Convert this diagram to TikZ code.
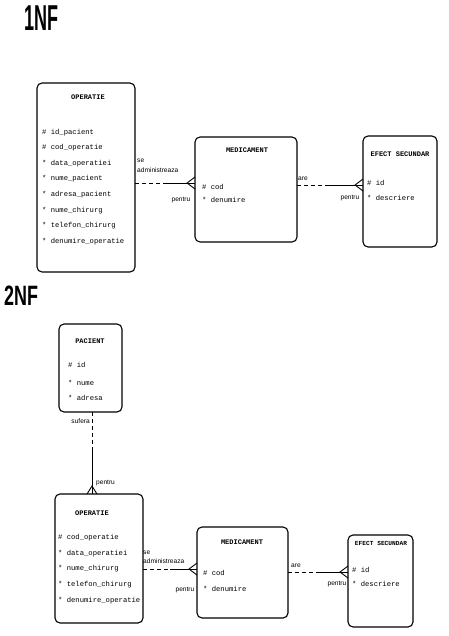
\documentclass[tikz,border=0pt]{standalone}
\usepackage{fontspec}
\setmainfont{Liberation Serif}
\newfontfamily\monof{Liberation Mono}
\newfontfamily\sansf{Liberation Sans}
\begin{document}
\begin{tikzpicture}[x=1pt,y=-1pt,
  entity/.style={draw, line width=1.1pt, rounded corners=5pt, inner sep=0, outer sep=0, anchor=north west},
  etitle/.style={inner sep=0, anchor=base, font=\monof\bfseries\fontsize{7}{8}\selectfont},
  attr/.style={inner sep=0, anchor=base west, font=\monof\fontsize{7.2}{8}\selectfont},
  rlabel/.style={inner sep=0, font=\sansf\fontsize{6.6}{7}\selectfont},
  rel/.style={line width=0.9pt},
  opt/.style={rel, dash pattern=on 4pt off 3pt},
  heading/.style={inner sep=0, anchor=base west, font=\sansf\bfseries}
]
\useasboundingbox (0,0) rectangle (448,636);

% ---------- headings ----------
\node[heading] (h1) at (24,31) {\scalebox{0.5}[1]{\fontsize{36}{36}\selectfont 1NF}};
\node[heading] (h2) at (4,305) {\scalebox{0.64}[1]{\fontsize{28}{28}\selectfont 2NF}};

% ---------- 1NF entities ----------
\node[entity, minimum width=98pt, minimum height=189pt] (op1) at (37,83) {};
\node[etitle] (op1t) at (88,99.5) {OPERATIE};
\foreach \t [count=\i from 0] in {{\# id\_pacient},{\# cod\_operatie},{* data\_operatiei},{* nume\_pacient},{* adresa\_pacient},{* nume\_chirurg},{* telefon\_chirurg},{* denumire\_operatie}}
  \node[attr] (op1a\i) at (42,134.5+15.5*\i) {\t};

\node[entity, minimum width=102pt, minimum height=105pt] (med1) at (195,137) {};
\node[etitle] (med1t) at (247,152.5) {MEDICAMENT};
\node[attr] (med1a) at (202,189.5) {\# cod};
\node[attr] (med1b) at (202,202.5) {* denumire};

\node[entity, minimum width=74pt, minimum height=111pt] (ef1) at (363,136) {};
\node[etitle] (ef1t) at (400,156.5) {EFECT SECUNDAR};
\node[attr] (ef1a) at (367,185.5) {\# id};
\node[attr] (ef1b) at (367,200.5) {* descriere};

% ---------- 1NF relationships ----------
\coordinate (r1a) at (op1.east |- 0,183);
\coordinate (r1b) at (med1.west |- 0,183);
\coordinate (r1m) at (164,183);
\draw[opt] (r1a) -- (r1m);
\draw[rel] (r1m) -- (r1b);
\draw[rel] (r1b) ++(0,-6) -- ++(-8,6) -- ++(8,6);
\node[rlabel, anchor=base west] (l1a) at (137,163) {se};
\node[rlabel, anchor=base west] (l1b) at (137,173) {administreaza};
\node[rlabel, anchor=base] (l1c) at (181,201) {pentru};

\coordinate (r2a) at (med1.east |- 0,185);
\coordinate (r2b) at (ef1.west |- 0,185);
\coordinate (r2m) at (325,185);
\draw[opt] (r2a) -- (r2m);
\draw[rel] (r2m) -- (r2b);
\draw[rel] (r2b) ++(0,-6) -- ++(-8,6) -- ++(8,6);
\node[rlabel, anchor=base west] (l2a) at (298,181) {are};
\node[rlabel, anchor=base] (l2b) at (350,200) {pentru};

% ---------- 2NF entities ----------
\node[entity, minimum width=63pt, minimum height=88pt] (pac) at (59,324) {};
\node[etitle] (pact) at (90,343.5) {PACIENT};
\node[attr] (paca) at (68,367.5) {\# id};
\node[attr] (pacb) at (68,385.5) {* nume};
\node[attr] (pacc) at (68,400.5) {* adresa};

\node[entity, minimum width=88pt, minimum height=129pt] (op2) at (55,494) {};
\node[etitle] (op2t) at (92,515.5) {OPERATIE};
\foreach \t [count=\i from 0] in {{\# cod\_operatie},{* data\_operatiei},{* nume\_chirurg},{* telefon\_chirurg},{* denumire\_operatie}}
  \node[attr] (op2a\i) at (58,539.5+15.7*\i) {\t};

\node[entity, minimum width=91pt, minimum height=91pt] (med2) at (197,527) {};
\node[etitle] (med2t) at (242,544.5) {MEDICAMENT};
\node[attr] (med2a) at (203,575.5) {\# cod};
\node[attr] (med2b) at (203,591.5) {* denumire};

\node[entity, minimum width=65pt, minimum height=92pt] (ef2) at (348,535) {};
\node[etitle, font=\monof\bfseries\fontsize{6.2}{7}\selectfont] (ef2t) at (381,545.5) {EFECT SECUNDAR};
\node[attr] (ef2a) at (352,572.5) {\# id};
\node[attr] (ef2b) at (352,586.5) {* descriere};

% ---------- 2NF relationships ----------
\coordinate (r3a) at (92,0 |- pac.south);
\coordinate (r3b) at (92,0 |- op2.north);
\coordinate (r3m) at (92,450);
\draw[opt] (r3a) -- (r3m);
\draw[rel] (r3m) -- (r3b);
\draw[rel] (r3b) ++(-5,0) -- ++(5,-8) -- ++(5,8);
\node[rlabel, anchor=base east] (l3a) at (90,423) {sufera};
\node[rlabel, anchor=base west] (l3b) at (96,484) {pentru};

\coordinate (r4a) at (op2.east |- 0,569);
\coordinate (r4b) at (med2.west |- 0,569);
\coordinate (r4m) at (170,569);
\draw[opt] (r4a) -- (r4m);
\draw[rel] (r4m) -- (r4b);
\draw[rel] (r4b) ++(0,-6) -- ++(-8,6) -- ++(8,6);
\node[rlabel, anchor=base west] (l4a) at (143,554) {se};
\node[rlabel, anchor=base west] (l4b) at (143,563) {administreaza};
\node[rlabel, anchor=base] (l4c) at (185,591) {pentru};

\coordinate (r5a) at (med2.east |- 0,572);
\coordinate (r5b) at (ef2.west |- 0,572);
\coordinate (r5m) at (318,572);
\draw[opt] (r5a) -- (r5m);
\draw[rel] (r5m) -- (r5b);
\draw[rel] (r5b) ++(0,-6) -- ++(-8,6) -- ++(8,6);
\node[rlabel, anchor=base west] (l5a) at (291,567) {are};
\node[rlabel, anchor=base] (l5b) at (337,585) {pentru};
\end{tikzpicture}
\end{document}
